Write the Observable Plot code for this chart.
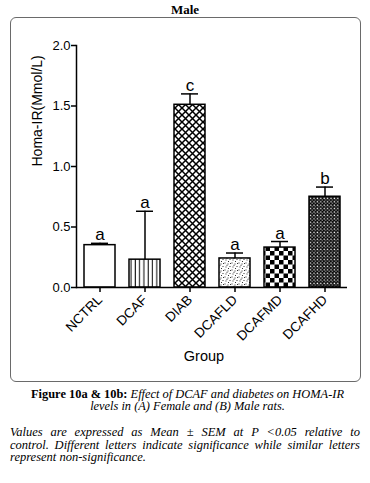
<!DOCTYPE html>
<html>
<head>
<meta charset="utf-8">
<script src="https://cdn.jsdelivr.net/npm/d3@7"></script>
<script src="https://cdn.jsdelivr.net/npm/@observablehq/plot@0.6"></script>
<style>
  body { margin:0; width:370px; height:483px; position:relative; background:#fff; overflow:hidden; }
  #title { position:absolute; top:3px; left:0; width:370px; text-align:center; font-family:"Liberation Serif"; font-weight:bold; font-size:13px; line-height:13px; }
  #frame { position:absolute; left:10px; top:17px; width:349px; height:363px; border:1px solid #6a6a6a; border-radius:6px; }
  #chart { position:absolute; left:0; top:17px; }
  #cap1 { position:absolute; left:0; width:375px; top:387.5px; text-align:center; font-family:"Liberation Serif"; font-size:12.4px; line-height:12.5px; }
  #cap2 { position:absolute; left:10px; width:350px; top:426px; font-family:"Liberation Serif"; font-style:italic; font-size:12.5px; line-height:12.5px; }
  #cap2 .j { text-align:justify; text-align-last:justify; white-space:nowrap; }
</style>
</head>
<body>
<div id="title">Male</div>
<div id="frame"></div>
<div id="chart"></div>
<div id="cap1"><b>Figure 10a &amp; 10b:</b> <i>Effect of DCAF and diabetes on HOMA-IR<br>levels in (A) Female and (B) Male rats.</i></div>
<div id="cap2"><div class="j">Values are expressed as Mean ± SEM at P &lt;0.05 relative to</div><div class="j">control. Different letters indicate significance while similar letters</div><div>represent non-significance.</div></div>
<script>
const groups = ["NCTRL", "DCAF", "DIAB", "DCAFLD", "DCAFMD", "DCAFHD"];
const means = [0.35, 0.23, 1.51, 0.24, 0.33, 0.75];
const sems = [0.015, 0.40, 0.09, 0.045, 0.05, 0.08];
const letters = ["a", "a", "c", "a", "a", "b"];
const yTicks = [0, 0.5, 1.0, 1.5, 2.0];
const yLabel = "Homa-IR(Mmol/L)";
const xLabel = "Group";

const fills = ["#fff", "url(#pVert)", "url(#pCross)", "url(#pDots)", "url(#pCheck)", "url(#pFine)"];
const data = groups.map((g, i) => ({group: g, mean: means[i], sem: sems[i], letter: letters[i], fill: fills[i]}));

const chart = Plot.plot({
  width: 370, height: 364,
  marginTop: 28, marginBottom: 94, marginLeft: 76, marginRight: 23,
  style: {fontFamily: "'Liberation Sans', Arial, sans-serif", fontSize: "13px", color: "#000", background: "transparent", overflow: "visible"},
  x: {domain: groups, paddingInner: 0.32, paddingOuter: 0.17, label: null},
  y: {domain: [0, 2], label: null},
  color: {type: "identity"},
  marks: [
    Plot.barY(data, {x: "group", y: "mean", fill: "fill", stroke: "#000", strokeWidth: 1.5}),
    Plot.ruleX(data, {x: "group", y1: "mean", y2: d => d.mean + d.sem, stroke: "#000", strokeWidth: 1.5}),
    Plot.tickY(data, {x: "group", y: d => d.mean + d.sem, insetLeft: 7, insetRight: 7, stroke: "#000", strokeWidth: 1.5}),
    Plot.text(data, {x: "group", y: d => d.mean + d.sem, text: "letter", dy: -3, lineAnchor: "bottom", fontSize: 17, fill: "#000"}),
    Plot.axisY({ticks: yTicks, tickFormat: d3.format(".1f"), tickSize: 5, tickPadding: 1, strokeWidth: 1.5, label: null, fontSize: 13}),
    Plot.axisX({tickSize: 5, tickRotate: -45, tickPadding: 5, strokeWidth: 1.5, label: null, fontSize: 13.5}),
    Plot.frame({anchor: "left", strokeWidth: 1.5}),
    Plot.ruleY([0], {strokeWidth: 1.5}),
    Plot.text([xLabel], {frameAnchor: "bottom", dy: 73, dx: -8, fontSize: 14.5}),
    Plot.text([yLabel], {frameAnchor: "left", rotate: -90, dx: -39, fontSize: 14})
  ]
});
document.getElementById("chart").appendChild(chart);

// fill patterns
const defs = d3.select(chart).insert("defs", ":first-child");
function pat(id, w, h) {
  return defs.append("pattern").attr("id", id).attr("patternUnits", "userSpaceOnUse").attr("width", w).attr("height", h);
}
let p = pat("pVert", 4.3, 4);
p.append("rect").attr("width", 4.3).attr("height", 4).attr("fill", "#fff");
p.append("line").attr("x1", 2).attr("x2", 2).attr("y1", 0).attr("y2", 4).attr("stroke", "#000").attr("stroke-width", 1);

p = pat("pCross", 7, 7);
p.append("rect").attr("width", 7).attr("height", 7).attr("fill", "#fff");
p.append("path").attr("d", "M-1,-1L8,8M8,-1L-1,8").attr("stroke", "#000").attr("stroke-width", 1.5);

p = pat("pDots", 7, 7);
p.append("rect").attr("width", 7).attr("height", 7).attr("fill", "#fff");
[[0.5,0.5],[3.5,1.5],[5.5,4],[1.5,4.5],[4,6],[6,1],[2.5,2.8]].forEach(([cx, cy]) =>
  p.append("rect").attr("x", cx).attr("y", cy).attr("width", 1).attr("height", 1).attr("fill", "#333"));

p = pat("pCheck", 9, 9);
p.append("rect").attr("width", 9).attr("height", 9).attr("fill", "#fff");
p.append("rect").attr("width", 4.5).attr("height", 4.5).attr("fill", "#000");
p.append("rect").attr("x", 4.5).attr("y", 4.5).attr("width", 4.5).attr("height", 4.5).attr("fill", "#000");

p = pat("pFine", 3.4, 3.4);
p.append("rect").attr("width", 3.4).attr("height", 3.4).attr("fill", "#000");
p.append("rect").attr("x", 0.5).attr("y", 0.5).attr("width", 1.4).attr("height", 1.4).attr("fill", "#fff");
p.append("rect").attr("x", 2.2).attr("y", 2.2).attr("width", 1).attr("height", 1).attr("fill", "#eee");
</script>
</body>
</html>
